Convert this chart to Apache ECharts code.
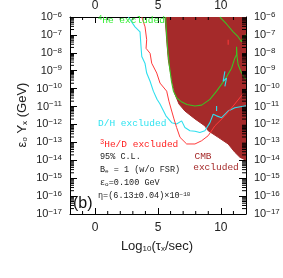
<!DOCTYPE html>
<html><head><meta charset="utf-8">
<script src="https://cdn.jsdelivr.net/npm/echarts@6/dist/echarts.min.js"></script>
<style>html,body{margin:0;padding:0;background:#fff}#c{width:283px;height:278px}</style>
</head><body><div id="c"></div>
<script>
// ---- axis values ----
const xMin = -2, xMax = 12;
const xTickLabels = [0, 5, 10];
const yMinExp = -17, yMaxExp = -6;

// ---- CMB excluded region: lower/left boundary (x = log10 tau, y = log10 eps0*Y) ----
const cmbX    = [5.56, 5.69, 5.82, 6.09, 6.35, 6.67, 7.14, 7.94, 8.73, 8.99, 9.79, 10.58, 11.11, 11.51, 12.0];
const cmbLogY = [-6.0, -7.27, -8.38, -9.48, -10.31, -10.86, -11.25, -11.69, -12.08, -12.35, -12.72, -13.09, -13.55, -13.83, -14.0];

// ---- 4He contour (green) ----
const heX    = [5.60, 5.75, 5.91, 6.07, 6.23, 6.51, 6.90, 7.30, 7.94, 8.47, 9.13, 9.66, 10.32, 10.85, 11.11, 11.25, 11.25, 11.29, 11.37, 11.59, 11.90, 12.0];
const heLogY = [-6.0, -7.66, -8.76, -9.59, -10.14, -10.53, -10.75, -10.89, -10.97, -10.92, -10.60, -10.14, -9.50, -8.86, -8.30, -8.10, -7.66, -8.21, -8.65, -9.04, -9.41, -9.47];
const he2X    = [9.92, 10.45, 10.98, 11.37, 11.64, 11.75, 12.0];
const he2LogY = [-6.0, -6.39, -6.83, -7.10, -7.38, -7.22, -6.98];

// ---- D/H contour (cyan) ----
const dhX    = [2.64, 3.17, 3.57, 3.65, 3.71, 3.97, 4.10, 4.37, 4.63, 4.92, 5.16, 5.63, 6.09, 6.48, 6.88, 7.14, 7.54, 7.94, 8.33, 8.73, 9.13, 9.39, 9.66, 10.06, 10.58, 11.11, 12.0];
const dhLogY = [-6.0, -6.55, -6.83, -7.66, -8.21, -8.60, -9.13, -9.59, -10.14, -10.59, -10.86, -11.52, -11.90, -11.97, -11.80, -12.17, -12.35, -12.38, -12.45, -12.35, -11.90, -11.43, -11.52, -11.62, -11.25, -11.07, -10.96];
const dhSpikeX    = [10.32, 10.18, 10.45, 10.32];
const dhSpikeLogY = [-9.04, -9.59, -9.41, -9.87];
const dhSpike2X    = [9.66, 9.66];
const dhSpike2LogY = [-10.97, -11.25];

// ---- 3He/D contour (red) ----
const he3X    = [3.71, 3.97, 4.10, 4.05, 4.37, 4.50, 4.90, 5.16, 5.69, 5.87, 6.09, 6.27, 6.48, 6.75, 7.28, 7.94, 8.47, 8.99, 9.52, 10.32, 10.98, 12.0];
const he3LogY = [-6.0, -6.55, -7.27, -7.75, -8.03, -8.58, -9.13, -9.69, -10.14, -10.70, -11.25, -11.69, -12.17, -12.72, -13.09, -13.09, -12.91, -12.63, -12.08, -11.52, -10.97, -10.08];
const he3SpikeX    = [10.58, 10.58];
const he3SpikeLogY = [-7.27, -7.55];

function zip(a, b) { return a.map((v, i) => [v, b[i]]); }

// minor ticks: [value, side]  side 0/1 = left/right (y value), 2/3 = bottom/top (x value)
const minorTicks = [];
for (let n = yMinExp; n < yMaxExp; n++) {
  for (let k = 2; k <= 9; k++) {
    const v = n + Math.log10(k);
    minorTicks.push([v, 0]);
    minorTicks.push([v, 1]);
  }
}
for (let i = xMin + 1; i < xMax; i++) {
  if (i % 5 === 0) continue;
  minorTicks.push([i, 2]);
  minorTicks.push([i, 3]);
}

const BROWN = '#a52a2a', GREEN = '#3fbf24', CYAN = '#2fdfee', RED = '#ff3a3a';
const SANS = 'Liberation Sans', MONO = 'Liberation Mono';

const yLabel = {
  fontSize: 11, fontFamily: SANS, color: '#222', margin: 8,
  formatter: v => '10{s|\u2212' + (-v) + '}',
  rich: { s: { fontSize: 8, fontFamily: SANS, color: '#222', verticalAlign: 'top', padding: [0, 0, 5, 0] } }
};
const axisLineStyle = { show: true, onZero: false, lineStyle: { color: '#000', width: 1 } };

const chart = echarts.init(document.getElementById('c'), null, { renderer: 'canvas' });
chart.setOption({
  animation: false,
  backgroundColor: '#fff',
  grid: { left: 70, top: 15, width: 176, height: 199, show: false },
  xAxis: [
    { type: 'value', position: 'bottom', min: xMin, max: xMax, interval: 1,
      axisLine: axisLineStyle, splitLine: { show: false },
      axisTick: { inside: true, length: 6, customValues: xTickLabels, lineStyle: { color: '#000' } },
      axisLabel: { customValues: xTickLabels, fontSize: 12, fontFamily: SANS, color: '#222', margin: 8 } },
    { type: 'value', position: 'top', min: xMin, max: xMax, interval: 1,
      axisLine: axisLineStyle, splitLine: { show: false },
      axisTick: { inside: true, length: 6, customValues: xTickLabels, lineStyle: { color: '#000' } },
      axisLabel: { customValues: xTickLabels, fontSize: 12, fontFamily: SANS, color: '#222', margin: 5 } }
  ],
  yAxis: [
    { type: 'value', position: 'left', min: yMinExp, max: yMaxExp, interval: 1,
      axisLine: axisLineStyle, splitLine: { show: false },
      axisTick: { inside: true, length: 7, lineStyle: { color: '#000' } },
      axisLabel: yLabel },
    { type: 'value', position: 'right', min: yMinExp, max: yMaxExp, interval: 1,
      axisLine: axisLineStyle, splitLine: { show: false },
      axisTick: { inside: true, length: 7, lineStyle: { color: '#000' } },
      axisLabel: yLabel }
  ],
  series: [
    { type: 'line', name: 'CMB', data: zip(cmbX, cmbLogY), showSymbol: false, z: 1,
      lineStyle: { color: BROWN, width: 1 }, areaStyle: { color: BROWN, opacity: 1, origin: 'end' } },
    { type: 'line', name: '4He', data: zip(heX, heLogY), showSymbol: false, z: 3, lineStyle: { color: GREEN, width: 1.1 } },
    { type: 'line', name: '4He b', data: zip(he2X, he2LogY), showSymbol: false, z: 3, lineStyle: { color: GREEN, width: 1.1 } },
    { type: 'line', name: 'D/H', data: zip(dhX, dhLogY), showSymbol: false, z: 3, lineStyle: { color: CYAN, width: 1.1 } },
    { type: 'line', name: 'D/H s1', data: zip(dhSpikeX, dhSpikeLogY), showSymbol: false, z: 3, lineStyle: { color: CYAN, width: 1.1 } },
    { type: 'line', name: 'D/H s2', data: zip(dhSpike2X, dhSpike2LogY), showSymbol: false, z: 3, lineStyle: { color: CYAN, width: 1.1 } },
    { type: 'line', name: '3He/D', data: zip(he3X, he3LogY), showSymbol: false, z: 3, lineStyle: { color: RED, width: 1 } },
    { type: 'line', name: '3He/D s', data: zip(he3SpikeX, he3SpikeLogY), showSymbol: false, z: 3, lineStyle: { color: RED, width: 1 } },
    { type: 'custom', name: 'minor ticks', data: minorTicks, z: 5, clip: false, silent: true,
      encode: { x: -1, y: -1 },
      renderItem: function (params, api) {
        const cs = params.coordSys;
        const v = api.value(0), side = api.value(1);
        const Ly = 4, Lx = 3;
        let x1, y1, x2, y2;
        if (side < 2) {
          const py = api.coord([0, v])[1];
          y1 = y2 = py;
          if (side === 0) { x1 = cs.x; x2 = cs.x + Ly; } else { x1 = cs.x + cs.width; x2 = x1 - Ly; }
        } else {
          const px = api.coord([v, yMinExp])[0];
          x1 = x2 = px;
          if (side === 2) { y1 = cs.y + cs.height; y2 = y1 - Lx; } else { y1 = cs.y; y2 = y1 + Lx; }
        }
        return { type: 'line', shape: { x1: x1, y1: y1, x2: x2, y2: y2 },
                 style: { stroke: '#000', lineWidth: 1 } };
      } }
  ],
  graphic: [
    { type: 'text', x: 22, y: 115, rotation: Math.PI / 2, z: 10,
      style: { text: '\u03b5{b|o} Y{b|x} (GeV)', font: '13px ' + SANS, fill: '#222', align: 'center', verticalAlign: 'middle',
               rich: { b: { fontSize: 8, fontFamily: SANS, fill: '#222', verticalAlign: 'bottom' } } } },
    { type: 'text', x: 157, y: 246, z: 10,
      style: { text: 'Log{b|10}(\u03c4{b|x}/sec)', font: '13px ' + SANS, fill: '#222', align: 'center', verticalAlign: 'middle',
               rich: { b: { fontSize: 8, fontFamily: SANS, fill: '#222', verticalAlign: 'bottom' } } } },
    { type: 'text', x: 98, y: 20, z: 10,
      style: { text: '{s|4}He excluded', font: '9.5px ' + MONO, fill: '#33ee33', verticalAlign: 'middle',
               rich: { s: { fontSize: 7, fontFamily: MONO, fill: '#33ee33', verticalAlign: 'top' } } } },
    { type: 'text', x: 98, y: 123, z: 10,
      style: { text: 'D/H excluded', font: '9.5px ' + MONO, fill: '#2fe3f0', verticalAlign: 'middle' } },
    { type: 'text', x: 100, y: 144, z: 10,
      style: { text: '{s|3}He/D excluded', font: '9.5px ' + MONO, fill: '#ff2222', verticalAlign: 'middle',
               rich: { s: { fontSize: 7, fontFamily: MONO, fill: '#ff2222', verticalAlign: 'top' } } } },
    { type: 'text', x: 100, y: 157, z: 10,
      style: { text: '95% C.L.', font: '8.5px ' + MONO, fill: '#222', verticalAlign: 'middle' } },
    { type: 'text', x: 100, y: 170, z: 10,
      style: { text: 'B{b|e} = 1 (w/o FSR)', font: '8.5px ' + MONO, fill: '#222', verticalAlign: 'middle',
               rich: { b: { fontSize: 6, fontFamily: MONO, fill: '#222', verticalAlign: 'bottom' } } } },
    { type: 'text', x: 100, y: 183, z: 10,
      style: { text: '\u03b5{b|o}=0.100 GeV', font: '8.5px ' + MONO, fill: '#222', verticalAlign: 'middle',
               rich: { b: { fontSize: 6, fontFamily: MONO, fill: '#222', verticalAlign: 'bottom' } } } },
    { type: 'text', x: 98, y: 196, z: 10,
      style: { text: '\u03b7=(6.13\u00b10.04)\u00d710{s|\u221210}', font: '8.5px ' + MONO, fill: '#222', verticalAlign: 'middle',
               rich: { s: { fontSize: 6, fontFamily: MONO, fill: '#222', verticalAlign: 'top' } } } },
    { type: 'text', x: 73, y: 204, z: 10,
      style: { text: '(b)', font: '16px ' + SANS, fill: '#111', verticalAlign: 'middle' } },
    { type: 'text', x: 203, y: 156, z: 10,
      style: { text: 'CMB', font: '9.5px ' + MONO, fill: BROWN, align: 'center', verticalAlign: 'middle' } },
    { type: 'text', x: 216, y: 167, z: 10,
      style: { text: 'excluded', font: '9.5px ' + MONO, fill: BROWN, align: 'center', verticalAlign: 'middle' } }
  ]
});
</script>
</body></html>
